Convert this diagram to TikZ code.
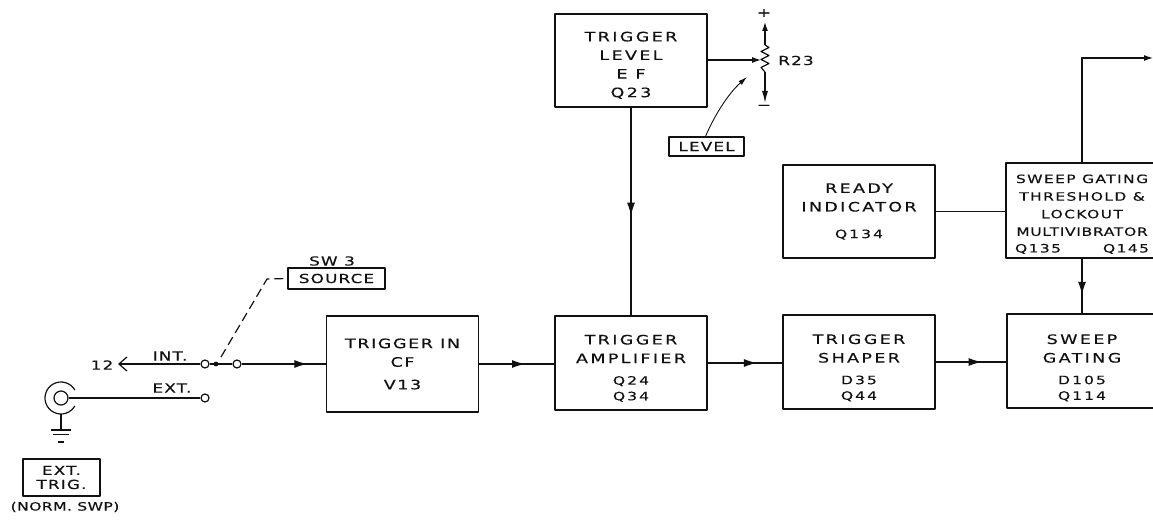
\documentclass[tikz,border=0pt]{standalone}
\usepackage{fontspec}
\setmainfont[LetterSpace=9,FakeStretch=1.35,FakeBold=0.3]{DejaVu Sans}
\newfontfamily\blockfont[LetterSpace=18,FakeStretch=1.35,FakeBold=0.3]{DejaVu Sans}
\newfontfamily\lockfont[LetterSpace=12,FakeStretch=1.35,FakeBold=0.3]{DejaVu Sans}
\usetikzlibrary{arrows.meta,decorations.markings,calc}

\definecolor{sweepink}{HTML}{111111}

% Small lines under a block title, and an empty top line that lowers the text.
\newcommand{\subfont}{\fontsize{11.5}{15}\selectfont}
\newcommand{\textdrop}[1]{\mbox{}\\[#1]}

\tikzset{
  blockbox/.style={draw=sweepink,line width=1.3pt,minimum width=152pt,minimum height=93pt,
    inner sep=0pt,align=center,font=\fontsize{13}{18.6}\blockfont,text=sweepink},
  tagbox/.style={draw=sweepink,line width=1.3pt,inner sep=0pt,align=center,
    font=\fontsize{12.5}{14}\selectfont,text=sweepink},
  plainlabel/.style={inner sep=0pt,align=center,font=\fontsize{12.5}{14}\selectfont,text=sweepink},
  contact/.style={circle,draw=sweepink,line width=1.2pt,fill=white,inner sep=0pt,minimum size=8pt},
  signal/.style={draw=sweepink,line width=1.2pt},
  headat/.style={postaction={decorate},decoration={markings,
    mark=at position #1 with {\arrow{Latex[length=13pt,width=8pt]}}}}
}

\begin{document}
\begin{tikzpicture}[x=1pt,y=-1pt,line join=round]
  % Match the page frame; the two right blocks run off the edge.
  \useasboundingbox (0,0) rectangle (1153,521);
  \clip (0,0) rectangle (1153,521);

  % Main blocks.
  \node[blockbox] (levelbox) at (631,60.5) {\textdrop{0.6pt}TRIGGER\\LEVEL\\E F\\Q23};
  \node[blockbox,minimum height=96pt,font=\fontsize{13}{18.6}\blockfont\addfontfeature{LetterSpace=12}] (cfbox) at (402.5,364) {TRIGGER IN\\CF\\[4pt]V13};
  \node[blockbox,minimum height=94pt] (ampbox) at (631,363) {\textdrop{1.6pt}TRIGGER\\AMPLIFIER\\[3pt]\subfont Q24\\[-3pt]\subfont Q34};
  \node[blockbox,minimum height=94pt] (shaperbox) at (859,362) {\textdrop{2.6pt}TRIGGER\\SHAPER\\[3pt]\subfont D35\\[-3pt]\subfont Q44};
  \node[blockbox,minimum height=94pt,minimum width=150pt] (gatingbox) at (1082,361) {\textdrop{4.6pt}SWEEP\\GATING\\[3pt]\subfont D105\\[-3pt]\subfont Q114};
  \node[blockbox] (readybox) at (859,211.5) {READY\\INDICATOR\\[8pt]\subfont Q134};
  \node[blockbox,minimum height=95pt,minimum width=152pt,font=\fontsize{11.5}{17.6}\lockfont] (lockoutbox) at (1082,210.5)
    {\textdrop{-1.6pt}SWEEP GATING\\THRESHOLD \&\\LOCKOUT\\\addfontfeature{LetterSpace=6}MULTIVIBRATOR\\[-1pt]Q135\hspace{42pt}Q145};

  % Front panel tags.
  \node[tagbox,minimum width=97pt,minimum height=21pt] (sourcetag) at (336.5,278.5) {SOURCE};
  \node[plainlabel] (swlabel) at (332,261) {SW 3};
  \node[tagbox,minimum width=75pt,minimum height=19pt] (leveltag) at (706.5,146.5) {LEVEL};
  \node[tagbox,minimum width=77pt,minimum height=37pt] (exttag) at (61.5,477.5) {EXT.\\TRIG.};
  \node[plainlabel,font=\fontsize{11.5}{14}\selectfont\addfontfeature{LetterSpace=4}] (normlabel) at (65,507) {(NORM. SWP)};

  % Input switch.
  \node[contact] (intpin) at (205,364) {};
  \node[contact] (extpin) at (205,398) {};
  \node[contact] (armpin) at (237,364) {};
  \node[plainlabel] (intlabel) at (170,356) {INT.};
  \node[plainlabel] (extlabel) at (172,388) {EXT.};
  \node[plainlabel] (sendlabel) at (102,365) {12};
  \coordinate (sendtip) at (118,364);
  \coordinate (armtip) at (216,364);
  \coordinate (dashbend) at (267,279);

  % Input jack and its ground.
  \node[circle,draw=sweepink,line width=1.2pt,inner sep=0pt,minimum size=14pt] (jackpin) at (61,398) {};
  \draw[sweepink,line width=1.2pt] (jackpin.center) ++(30:16pt) arc[start angle=30,end angle=330,radius=16pt];
  \coordinate (gndtop) at (61,430);
  \draw[signal] ($(jackpin.center)+(0,16)$) -- (gndtop);
  \draw[signal] ($(gndtop)+(-10,0)$) -- +(20,0);
  \draw[signal] ($(gndtop)+(-8,4.5)$) -- +(16,0);
  \draw[signal] ($(gndtop)+(-3,12)$) -- +(6,0);

  % Signal path.
  \draw[signal,{Straight Barb[length=8pt,width=14pt]}-] (sendtip) -- (intpin);
  \draw[signal] (jackpin.east) -- (extpin);
  \draw[signal] (intpin) -- (armpin);
  \fill[sweepink] (armtip) circle[radius=2.4pt];
  \draw[signal,headat=0.78] (armpin) -- (cfbox.west);
  \draw[signal,dash pattern=on 9pt off 5pt] ($(armtip)+(5,-7)$) -- (dashbend) -- (sourcetag.west);
  \draw[signal,headat=0.61] (cfbox.east) -- (cfbox.east -| ampbox.west);
  \draw[signal,headat=0.66] (ampbox.east) -- (ampbox.east -| shaperbox.west);
  \draw[signal,headat=0.65] (shaperbox.east) -- (gatingbox.west |- shaperbox.east);
  \draw[signal,headat=0.52] (levelbox.south) -- (ampbox.north);
  \draw[signal] (readybox.east) -- (readybox.east -| lockoutbox.west);
  \draw[signal,headat=0.66] (lockoutbox.south) -- (gatingbox.north);
  \draw[signal,-{Latex[length=9pt,width=6pt]}] (lockoutbox.north) |- (1153,58);

  % Level control.
  \coordinate (potmid) at (765,60);
  \node[plainlabel] (potlabel) at (796,60.5) {R23};
  \node[plainlabel] (pluslabel) at (764,13) {+};
  \node[plainlabel] (minuslabel) at (764,107) {−};
  \draw[signal] (765,45) -- (769,47.5) -- (761,51.5) -- (769,55.5) -- (761,59.5) -- (769,63.5) -- (761,67.5) -- (765,72);
  \draw[signal,-{Latex[length=9pt,width=6pt]}] (765,45) -- (765,22);
  \draw[signal,-{Latex[length=12pt,width=6pt]}] (765,72) -- (765,103);
  \draw[signal,-{Latex[length=9pt,width=6pt]}] (levelbox.east |- potmid) -- (761,60);
  \draw[sweepink,line width=0.9pt,-{Latex[length=9pt,width=5pt]}] ($(leveltag.north)+(-1,0)$) .. controls (716,112) and (730,92) .. (747,77);
\end{tikzpicture}
\end{document}
